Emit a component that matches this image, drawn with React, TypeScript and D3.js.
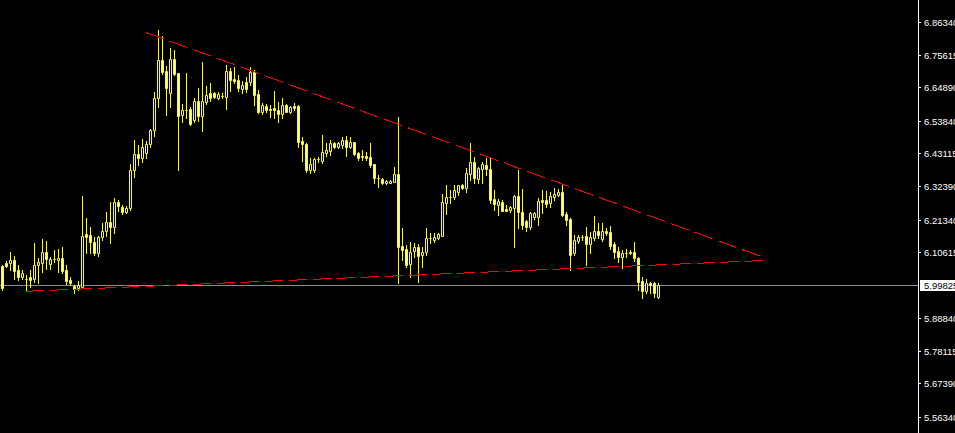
import React from "react";
import * as d3 from "d3";

// OHLC candles, oldest first
const open = [
  6.060, 6.070, 6.070, 6.080, 6.047, 6.024, 6.018, 6.024, 6.018, 6.064,
  6.070, 6.107, 6.067, 6.084, 6.080, 6.087, 6.047, 6.014, 5.995, 5.988,
  5.991, 6.166, 6.162, 6.139, 6.103, 6.156, 6.176, 6.205, 6.189, 6.271,
  6.255, 6.238, 6.251, 6.376, 6.429, 6.416, 6.432, 6.462, 6.508, 6.613,
  6.738, 6.702, 6.630, 6.742, 6.696, 6.557, 6.574, 6.577, 6.541, 6.603,
  6.554, 6.600, 6.630, 6.630, 6.613, 6.620, 6.617, 6.702, 6.676, 6.673,
  6.643, 6.666, 6.666, 6.699, 6.626, 6.567, 6.587, 6.577, 6.580, 6.574,
  6.561, 6.590, 6.567, 6.587, 6.587, 6.472, 6.462, 6.376, 6.376, 6.413,
  6.406, 6.432, 6.439, 6.465, 6.452, 6.459, 6.475, 6.452, 6.469, 6.432,
  6.423, 6.423, 6.419, 6.396, 6.350, 6.347, 6.334, 6.334, 6.337, 6.363,
  6.126, 6.116, 6.067, 6.110, 6.123, 6.097, 6.107, 6.153, 6.146, 6.153,
  6.159, 6.268, 6.288, 6.288, 6.304, 6.327, 6.317, 6.363, 6.403, 6.347,
  6.380, 6.393, 6.380, 6.281, 6.261, 6.271, 6.248, 6.245, 6.251, 6.291,
  6.238, 6.209, 6.189, 6.222, 6.222, 6.278, 6.278, 6.268, 6.288, 6.294,
  6.304, 6.232, 6.215, 6.103, 6.143, 6.156, 6.159, 6.133, 6.153, 6.176,
  6.149, 6.176, 6.172, 6.133, 6.110, 6.090, 6.103, 6.107, 6.107, 6.087,
  6.011, 5.978, 6.004, 6.004, 5.958,
];

const high = [
  6.064, 6.077, 6.107, 6.093, 6.064, 6.047, 6.031, 6.047, 6.136, 6.087,
  6.149, 6.143, 6.090, 6.113, 6.116, 6.123, 6.064, 6.024, 5.998, 6.011,
  6.291, 6.218, 6.189, 6.156, 6.159, 6.202, 6.238, 6.271, 6.284, 6.278,
  6.261, 6.258, 6.396, 6.475, 6.459, 6.478, 6.472, 6.511, 6.633, 6.837,
  6.817, 6.719, 6.778, 6.771, 6.697, 6.594, 6.696, 6.584, 6.613, 6.646,
  6.732, 6.653, 6.663, 6.633, 6.633, 6.630, 6.722, 6.712, 6.715, 6.689,
  6.669, 6.682, 6.715, 6.705, 6.640, 6.597, 6.594, 6.590, 6.636, 6.600,
  6.613, 6.594, 6.587, 6.597, 6.590, 6.485, 6.465, 6.416, 6.416, 6.419,
  6.492, 6.465, 6.475, 6.469, 6.469, 6.485, 6.488, 6.485, 6.470, 6.436,
  6.442, 6.436, 6.465, 6.397, 6.360, 6.350, 6.343, 6.343, 6.386, 6.551,
  6.186, 6.130, 6.139, 6.136, 6.133, 6.123, 6.186, 6.169, 6.169, 6.169,
  6.297, 6.327, 6.311, 6.327, 6.328, 6.330, 6.383, 6.465, 6.419, 6.386,
  6.403, 6.416, 6.416, 6.311, 6.281, 6.278, 6.261, 6.258, 6.294, 6.376,
  6.314, 6.212, 6.238, 6.238, 6.284, 6.311, 6.307, 6.304, 6.317, 6.314,
  6.330, 6.238, 6.218, 6.162, 6.162, 6.162, 6.189, 6.172, 6.225, 6.202,
  6.202, 6.186, 6.192, 6.139, 6.123, 6.113, 6.116, 6.113, 6.139, 6.090,
  6.024, 6.018, 6.008, 6.008, 6.004,
];

const low = [
  5.981, 6.057, 6.047, 6.018, 6.014, 6.018, 5.981, 5.991, 6.008, 6.004,
  6.041, 6.051, 6.051, 6.074, 6.041, 6.037, 6.001, 5.998, 5.972, 5.981,
  5.988, 6.103, 6.103, 6.097, 6.093, 6.146, 6.159, 6.136, 6.169, 6.241,
  6.232, 6.235, 6.245, 6.353, 6.393, 6.403, 6.416, 6.452, 6.488, 6.584,
  6.692, 6.557, 6.584, 6.689, 6.376, 6.534, 6.548, 6.524, 6.534, 6.538,
  6.505, 6.594, 6.603, 6.613, 6.610, 6.613, 6.577, 6.636, 6.663, 6.636,
  6.630, 6.633, 6.656, 6.590, 6.564, 6.561, 6.567, 6.551, 6.548, 6.534,
  6.548, 6.566, 6.564, 6.574, 6.452, 6.406, 6.370, 6.366, 6.370, 6.403,
  6.399, 6.423, 6.426, 6.449, 6.449, 6.449, 6.423, 6.449, 6.426, 6.409,
  6.409, 6.409, 6.386, 6.334, 6.320, 6.330, 6.330, 6.333, 6.336, 6.004,
  6.080, 6.057, 6.024, 6.090, 6.008, 6.057, 6.097, 6.136, 6.139, 6.149,
  6.158, 6.232, 6.268, 6.281, 6.294, 6.314, 6.304, 6.343, 6.334, 6.334,
  6.334, 6.360, 6.268, 6.245, 6.228, 6.240, 6.240, 6.238, 6.123, 6.186,
  6.182, 6.176, 6.182, 6.215, 6.195, 6.235, 6.255, 6.255, 6.278, 6.291,
  6.225, 6.195, 6.047, 6.097, 6.136, 6.146, 6.064, 6.103, 6.146, 6.153,
  6.143, 6.162, 6.116, 6.087, 6.074, 6.054, 6.090, 6.100, 6.077, 5.981,
  5.955, 5.972, 5.972, 5.958, 5.955,
];

const close = [
  5.988, 6.060, 6.080, 6.044, 6.024, 6.037, 6.017, 6.014, 6.064, 6.074,
  6.107, 6.084, 6.084, 6.083, 6.087, 6.044, 6.011, 6.004, 5.985, 5.998,
  6.159, 6.156, 6.139, 6.103, 6.156, 6.176, 6.205, 6.189, 6.271, 6.258,
  6.238, 6.251, 6.376, 6.429, 6.416, 6.452, 6.462, 6.508, 6.613, 6.738,
  6.699, 6.646, 6.742, 6.692, 6.554, 6.574, 6.573, 6.528, 6.603, 6.554,
  6.603, 6.623, 6.613, 6.617, 6.626, 6.619, 6.702, 6.673, 6.669, 6.646,
  6.656, 6.643, 6.699, 6.623, 6.567, 6.590, 6.574, 6.574, 6.574, 6.561,
  6.590, 6.567, 6.584, 6.580, 6.469, 6.462, 6.376, 6.396, 6.413, 6.412,
  6.436, 6.442, 6.465, 6.452, 6.465, 6.475, 6.452, 6.469, 6.429, 6.416,
  6.419, 6.416, 6.393, 6.350, 6.349, 6.334, 6.340, 6.340, 6.363, 6.123,
  6.113, 6.064, 6.107, 6.123, 6.093, 6.107, 6.153, 6.152, 6.156, 6.166,
  6.271, 6.288, 6.287, 6.311, 6.327, 6.317, 6.366, 6.403, 6.350, 6.383,
  6.396, 6.380, 6.278, 6.264, 6.274, 6.241, 6.241, 6.255, 6.291, 6.238,
  6.195, 6.189, 6.235, 6.235, 6.274, 6.271, 6.264, 6.291, 6.297, 6.304,
  6.228, 6.212, 6.097, 6.146, 6.156, 6.155, 6.133, 6.156, 6.176, 6.162,
  6.176, 6.169, 6.126, 6.107, 6.090, 6.103, 6.102, 6.103, 6.087, 6.008,
  5.978, 6.004, 5.998, 5.972, 5.998,
];

// Price scale labels
const priceTicks = [
  "6.86340", "6.75615", "6.64890", "6.53840", "6.43115", "6.32390",
  "6.21340", "6.10615", "5.88840", "5.78115", "5.67390", "5.56340",
];
const lastPrice = "5.99825";

// Trend lines: [bar index, price] endpoints
const upperTrend = [[35.9, 6.8295], [190.6, 6.088]];
const lowerTrend = [[5.9, 5.977], [190.6, 6.0785]];

const W = 955;
const H = 433;
const AXIS_X = 918;
const YELLOW = "#ffff00";

export default function App() {
  const n = open.length;
  const x = d3.scaleLinear().domain([0, n - 1]).range([2, 658]);
  const y = d3.scaleLinear().domain([5.5634, 6.8634]).range([417, 22]);

  const candles = d3.range(n).map((i) => {
    const c = Math.round(x(i));
    const o = open[i];
    const cl = close[i];
    const top = Math.round(y(Math.max(o, cl)));
    const bot = Math.round(y(Math.min(o, cl)));
    const hi = Math.round(y(high[i]));
    const lo = Math.round(y(low[i]));
    const bear = o > cl;
    return (
      <g key={i}>
        <rect x={c} y={hi} width={1} height={lo - hi + 1} fill={YELLOW} />
        <path
          d={`M${c - 0.5},${top + 0.5}H${c + 1.5}V${bot + 0.5}H${c - 0.5}Z`}
          fill={bear ? "#ffffff" : "#000000"}
          stroke={YELLOW}
          strokeWidth={1}
        />
      </g>
    );
  });

  const trend = (pts: number[][], dash: string, key: string) => {
    const line = d3
      .line<number[]>()
      .x((d) => x(d[0]))
      .y((d) => y(d[1]));
    return (
      <path
        key={key}
        d={line(pts) || ""}
        stroke="#ff0000"
        strokeWidth={1}
        fill="none"
        strokeDasharray={dash}
        shapeRendering="crispEdges"
      />
    );
  };

  const lastY = Math.round(y(parseFloat(lastPrice)));

  return (
    <svg
      width={W}
      height={H}
      style={{ position: "absolute", left: 0, top: 0, display: "block" }}
      fontFamily="'Liberation Sans', Arial, sans-serif"
    >
      <rect x={0} y={0} width={W} height={H} fill="#000000" />
      <rect x={0} y={lastY} width={AXIS_X} height={1} fill="#8c8c8c" />
      {candles}
      {trend(upperTrend, "19 6.4", "up")}
      {trend(lowerTrend, "18 6", "low")}
      <rect x={AXIS_X} y={0} width={1} height={H} fill="#ffffff" />
      {priceTicks.map((t) => {
        const ty = Math.round(y(parseFloat(t)));
        return (
          <g key={t}>
            <rect x={AXIS_X + 1} y={ty} width={2} height={1} fill="#ffffff" />
            <text x={924} y={ty + 3.5} fontSize={9.5} fill="#ffffff">
              {t}
            </text>
          </g>
        );
      })}
      <rect x={920} y={lastY - 5} width={W - 920} height={11} fill="#ffffff" />
      <text x={924} y={lastY + 3.5} fontSize={9.5} fill="#000000">
        {lastPrice}
      </text>
    </svg>
  );
}
